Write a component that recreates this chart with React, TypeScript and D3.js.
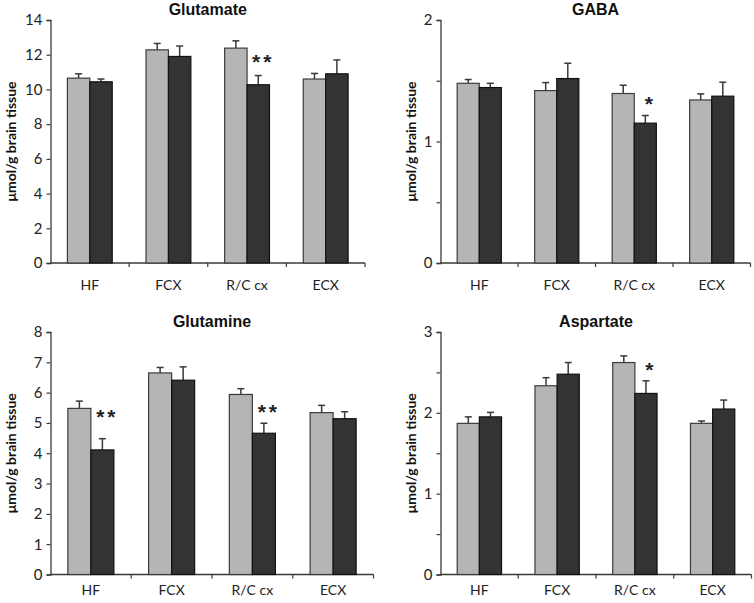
import { useEffect, useRef } from 'react';
import * as d3 from 'd3';

const regions = ['HF', 'FCX', 'R/C cx', 'ECX'];

// light = control, dark = treated; *Err = height of the upward error bar
const glutamateLight = [10.65, 12.28, 12.38, 10.6];
const glutamateLightErr = [0.25, 0.37, 0.42, 0.32];
const glutamateDark = [10.44, 11.9, 10.27, 10.9];
const glutamateDarkErr = [0.16, 0.6, 0.53, 0.8];
const glutamateStars = ['', '', '**', ''];

const gabaLight = [1.479, 1.419, 1.395, 1.342];
const gabaLightErr = [0.031, 0.066, 0.068, 0.05];
const gabaDark = [1.444, 1.518, 1.151, 1.373];
const gabaDarkErr = [0.035, 0.126, 0.063, 0.115];
const gabaStars = ['', '', '*', ''];

const glutamineLight = [5.48, 6.65, 5.94, 5.34];
const glutamineLightErr = [0.24, 0.18, 0.19, 0.24];
const glutamineDark = [4.11, 6.41, 4.66, 5.14];
const glutamineDarkErr = [0.37, 0.44, 0.33, 0.23];
const glutamineStars = ['**', '', '**', ''];

const aspartateLight = [1.87, 2.335, 2.622, 1.87];
const aspartateLightErr = [0.08, 0.1, 0.082, 0.029];
const aspartateDark = [1.95, 2.478, 2.24, 2.047];
const aspartateDarkErr = [0.056, 0.144, 0.156, 0.111];
const aspartateStars = ['', '', '*', ''];

const glutamateTicks = [0, 2, 4, 6, 8, 10, 12, 14];
const gabaTicks = [0, 0.5, 1, 1.5, 2];
const glutamineTicks = [0, 1, 2, 3, 4, 5, 6, 7, 8];
const aspartateTicks = [0, 0.5, 1, 1.5, 2, 2.5, 3];

const yLabel = 'μmol/g brain tissue';

interface Panel {
  title: string;
  light: number[]; lightErr: number[];
  dark: number[]; darkErr: number[];
  stars: string[];
  ticks: number[];
  yMax: number;
  left: number; right: number; top: number; bottom: number;
  labelX: number;
  starY: number[];
}

const panels: Panel[] = [
  { title: 'Glutamate', light: glutamateLight, lightErr: glutamateLightErr, dark: glutamateDark, darkErr: glutamateDarkErr,
    stars: glutamateStars, ticks: glutamateTicks, yMax: 14,
    left: 50.5, right: 365, top: 20, bottom: 263, labelX: 12, starY: [0, 0, 11.75, 0] },
  { title: 'GABA', light: gabaLight, lightErr: gabaLightErr, dark: gabaDark, darkErr: gabaDarkErr,
    stars: gabaStars, ticks: gabaTicks, yMax: 2,
    left: 440.5, right: 750.5, top: 20, bottom: 263, labelX: 412, starY: [0, 0, 1.33, 0] },
  { title: 'Glutamine', light: glutamineLight, lightErr: glutamineLightErr, dark: glutamineDark, darkErr: glutamineDarkErr,
    stars: glutamineStars, ticks: glutamineTicks, yMax: 8,
    left: 50.5, right: 373.5, top: 332, bottom: 574.5, labelX: 12, starY: [5.3, 0, 5.47, 0] },
  { title: 'Aspartate', light: aspartateLight, lightErr: aspartateLightErr, dark: aspartateDark, darkErr: aspartateDarkErr,
    stars: aspartateStars, ticks: aspartateTicks, yMax: 3,
    left: 440.5, right: 751.5, top: 332, bottom: 574.5, labelX: 412, starY: [0, 0, 2.57, 0] },
];

const tickFont = 'Lato, "Liberation Sans", sans-serif';

export default function App() {
  const ref = useRef<SVGSVGElement>(null);

  useEffect(() => {
    if (!ref.current) return;
    const svg = d3.select(ref.current);
    svg.selectAll('*').remove();

    panels.forEach(p => {
      const g = svg.append('g');
      const x = d3.scaleBand<string>().domain(regions).range([p.left, p.right]);
      const y = d3.scaleLinear().domain([0, p.yMax]).range([p.bottom, p.top]);
      const bw = x.bandwidth() * 0.285;
      const step = p.ticks[1] - p.ticks[0];

      // y axis (half-unit ticks stay unlabelled)
      const yAxis = d3.axisLeft(y).tickValues(p.ticks).tickSize(4).tickPadding(4)
        .tickFormat(d => (step < 1 && !Number.isInteger(d as number)) ? '' : String(d));
      const ya = g.append('g').attr('transform', `translate(${p.left},0)`).call(yAxis);
      ya.select('.domain').attr('stroke', '#3a3a3a').attr('stroke-width', 1.3);
      ya.selectAll('.tick line').attr('stroke', '#3a3a3a').attr('stroke-width', 1.2);
      ya.selectAll('.tick text').attr('font-family', tickFont).attr('font-size', '15px').attr('fill', '#222');

      // x axis: ticks between categories
      const xa = g.append('g');
      xa.append('line').attr('x1', p.left).attr('x2', p.right).attr('y1', p.bottom).attr('y2', p.bottom)
        .attr('stroke', '#3a3a3a').attr('stroke-width', 1.3);
      const edges = regions.map(r => (x(r) ?? 0) + x.bandwidth());
      xa.selectAll('line.xt').data(edges).enter().append('line').attr('class', 'xt')
        .attr('x1', d => d).attr('x2', d => d).attr('y1', p.bottom).attr('y2', p.bottom + 4)
        .attr('stroke', '#3a3a3a').attr('stroke-width', 1.2);
      xa.selectAll('text').data(regions).enter().append('text')
        .attr('x', d => (x(d) ?? 0) + x.bandwidth() / 2).attr('y', Math.min(p.bottom + 27, 595))
        .attr('text-anchor', 'middle').attr('font-family', tickFont).attr('font-size', '14px').attr('fill', '#222')
        .text(d => d);

      const cx = (r: string) => (x(r) ?? 0) + x.bandwidth() / 2;

      // error bars (upward only)
      const errs = [
        ...regions.map((r, i) => ({ xc: cx(r) - bw / 2, v: p.light[i], e: p.lightErr[i] })),
        ...regions.map((r, i) => ({ xc: cx(r) + bw / 2, v: p.dark[i], e: p.darkErr[i] })),
      ];
      const eg = g.append('g').attr('stroke', '#3a3a3a').attr('stroke-width', 1.5);
      errs.forEach(d => {
        eg.append('line').attr('x1', d.xc).attr('x2', d.xc).attr('y1', y(d.v)).attr('y2', y(d.v + d.e));
        eg.append('line').attr('x1', d.xc - 3.5).attr('x2', d.xc + 3.5).attr('y1', y(d.v + d.e)).attr('y2', y(d.v + d.e));
      });

      // bars
      g.selectAll('rect.light').data(regions).enter().append('rect').attr('class', 'light')
        .attr('x', r => cx(r) - bw).attr('width', bw)
        .attr('y', (_, i) => y(p.light[i])).attr('height', (_, i) => p.bottom - y(p.light[i]))
        .attr('fill', '#b5b5b5').attr('stroke', '#3c3c3c').attr('stroke-width', 1.2);
      g.selectAll('rect.dark').data(regions).enter().append('rect').attr('class', 'dark')
        .attr('x', r => cx(r)).attr('width', bw)
        .attr('y', (_, i) => y(p.dark[i])).attr('height', (_, i) => p.bottom - y(p.dark[i]))
        .attr('fill', '#333333').attr('stroke', '#111').attr('stroke-width', 1.2);

      // significance marks
      g.selectAll('text.star').data(regions).enter().append('text').attr('class', 'star')
        .attr('x', r => cx(r) + bw / 2 + 5).attr('y', (_, i) => y(p.starY[i]) + 10)
        .attr('text-anchor', 'middle').attr('font-family', '"Liberation Sans", Arial, sans-serif')
        .attr('font-size', '21px').attr('font-weight', 'bold').attr('fill', '#222')
        .attr('letter-spacing', '3px')
        .text((_, i) => p.stars[i]);

      // title
      g.append('text').attr('x', (p.left + p.right) / 2).attr('y', p.top - 5)
        .attr('text-anchor', 'middle').attr('font-family', '"Liberation Sans", Arial, sans-serif')
        .attr('font-size', '16px').attr('font-weight', 'bold').attr('fill', '#111').text(p.title);

      // y label
      g.append('text')
        .attr('transform', `translate(${p.labelX},${(p.top + p.bottom) / 2}) rotate(-90)`)
        .attr('text-anchor', 'middle').attr('dominant-baseline', 'middle')
        .attr('font-family', tickFont).attr('font-size', '14px').attr('font-weight', 'bold').attr('fill', '#111')
        .text(yLabel);
    });
  }, []);

  return (
    <svg ref={ref} width={754} height={603}
      style={{ position: 'absolute', left: 0, top: 0, background: '#fff' }} />
  );
}
